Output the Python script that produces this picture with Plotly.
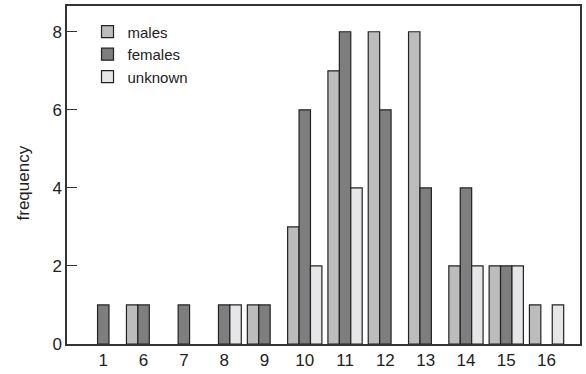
import plotly.graph_objects as go

categories = ["1", "6", "7", "8", "9", "10", "11", "12", "13", "14", "15", "16"]
males = [0, 1, 0, 0, 1, 3, 7, 8, 8, 2, 2, 1]
females = [1, 1, 1, 1, 1, 6, 8, 6, 4, 4, 2, 0]
unknown = [0, 0, 0, 1, 0, 2, 4, 0, 0, 2, 2, 1]
y_ticks = [0, 2, 4, 6, 8]

series = [
    ("males", males, "#bcbcbc"),
    ("females", females, "#7e7e7e"),
    ("unknown", unknown, "#e6e6e8"),
]

fig = go.Figure()
for name, vals, col in series:
    fig.add_trace(go.Bar(
        x=categories, y=[v if v else None for v in vals], name=name, legendgroup=name,
        marker=dict(color=col, line=dict(color="#222222", width=1.2)),
    ))

fig.add_annotation(
    text="frequency", xref="paper", yref="paper", x=-0.085, y=0.476,
    textangle=-90, showarrow=False, font=dict(size=17, color="#222222"),
    xanchor="center", yanchor="middle",
)

fig.update_layout(
    width=586, height=374,
    margin=dict(l=67, r=4, t=5, b=29),
    paper_bgcolor="white", plot_bgcolor="white",
    barmode="group", bargap=0.15, bargroupgap=0,
    font=dict(family="Liberation Sans, Arial, sans-serif", color="#222222"),
    showlegend=True,
    legend=dict(
        x=0.04, y=0.972, xanchor="left", yanchor="top",
        bgcolor="rgba(0,0,0,0)", font=dict(size=15, color="#222222"),
        tracegroupgap=3, traceorder="normal",
    ),
    xaxis=dict(
        type="category", range=[-0.9, 11.83],
        showline=True, mirror=True, linecolor="#333333", linewidth=1.5,
        ticks="", showgrid=False, tickfont=dict(size=17), zeroline=False,
    ),
    yaxis=dict(
        range=[0, 8.66], tickvals=y_ticks,
        showline=True, mirror=True, linecolor="#333333", linewidth=1.5,
        ticks="inside", ticklen=10, tickcolor="#333333", tickwidth=1,
        showgrid=False, zeroline=False, tickfont=dict(size=17),
    ),
)

fig.write_html("out.html", config={"displayModeBar": False},
               post_script="document.body.style.margin='0px';")
